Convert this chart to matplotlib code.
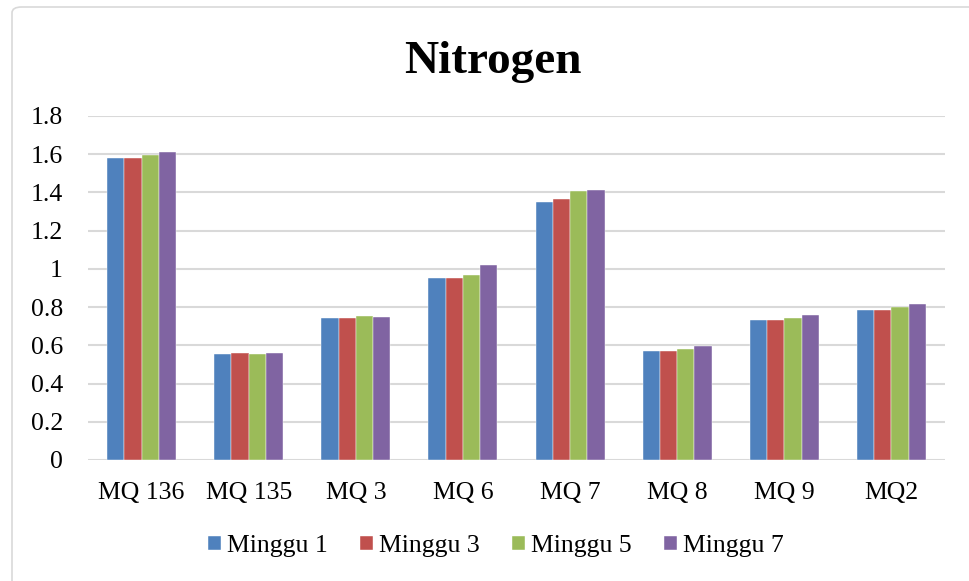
import matplotlib.pyplot as plt
import numpy as np
from matplotlib.patches import FancyBboxPatch

# Kadar nitrogen per sensor untuk tiap minggu pengamatan
sensors = ['MQ 136', 'MQ 135', 'MQ 3', 'MQ 6', 'MQ 7', 'MQ 8', 'MQ 9', 'MQ2']
minggu_1 = [1.58, 0.555, 0.742, 0.953, 1.352, 0.568, 0.730, 0.784]
minggu_3 = [1.58, 0.562, 0.742, 0.953, 1.365, 0.568, 0.730, 0.784]
minggu_5 = [1.596, 0.555, 0.752, 0.970, 1.408, 0.583, 0.744, 0.800]
minggu_7 = [1.612, 0.558, 0.747, 1.022, 1.414, 0.598, 0.760, 0.816]
series_names = ['Minggu 1', 'Minggu 3', 'Minggu 5', 'Minggu 7']
y_ticks = [0, 0.2, 0.4, 0.6, 0.8, 1, 1.2, 1.4, 1.6, 1.8]
y_labels = ['0', '0.2', '0.4', '0.6', '0.8', '1', '1.2', '1.4', '1.6', '1.8']

colors = ['#4F81BD', '#C0504D', '#9BBB59', '#8064A2']

plt.rcParams['font.family'] = ['Liberation Serif', 'DejaVu Serif']

fig = plt.figure(figsize=(9.69, 5.81), dpi=100)
ax = fig.add_axes([88 / 969, 1 - 460 / 581, (945 - 88) / 969, (460 - 116) / 581])

# bingkai chart (sisi kanan dan bawah keluar dari gambar)
frame = FancyBboxPatch((12 / 969, -0.05), 1.0, 1 - 7 / 581 + 0.05,
                       boxstyle='round,pad=0,rounding_size=0.01',
                       transform=fig.transFigure, facecolor='white',
                       edgecolor='#d9d9d9', linewidth=1.2, zorder=-10)
fig.patches.append(frame)

x = np.arange(len(sensors))
width = 0.161
data = [minggu_1, minggu_3, minggu_5, minggu_7]
for i, (vals, name) in enumerate(zip(data, series_names)):
    ax.bar(x + (i - 1.5) * width, vals, width, color=colors[i], label=name,
           edgecolor='white', linewidth=0.3, zorder=3)

ax.set_xlim(-0.5, len(sensors) - 0.5)
ax.set_ylim(0, 1.8)
ax.set_yticks(y_ticks)
ax.set_yticklabels(y_labels)
ax.set_xticks(x)
ax.set_xticklabels(sensors)
ax.tick_params(axis='y', length=0, pad=18, labelsize=18.5)
ax.tick_params(axis='x', length=0, pad=15.5, labelsize=18.5)
ax.grid(axis='y', color='#d9d9d9', linewidth=1.5, zorder=0)
ax.set_axisbelow(True)
for s in ax.spines.values():
    s.set_visible(False)
ax.set_facecolor('none')

fig.text(493 / 969, 1 - 73 / 581, 'Nitrogen', ha='center', va='baseline',
         fontsize=34, fontweight='bold')

fig.legend(loc='center', bbox_to_anchor=(496 / 969, 1 - 546 / 581), ncol=4,
           frameon=False, fontsize=18.5, handlelength=0.5, handleheight=0.5,
           handletextpad=0.25, columnspacing=1.25)

fig.savefig('out.png', dpi=100)
